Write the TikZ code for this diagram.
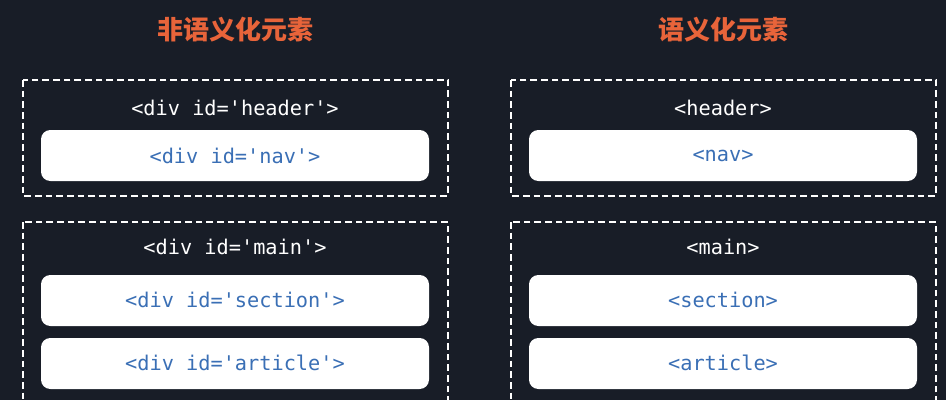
\documentclass[tikz,border=0pt]{standalone}
\usepackage{fontspec}
\setmonofont{DejaVu Sans Mono}
\newfontfamily\cjk{Noto Sans CJK SC}
\definecolor{bg}{HTML}{181D27}
\definecolor{ttl}{HTML}{E8643A}
\definecolor{blu}{HTML}{3A6FB5}
\begin{document}
\begin{tikzpicture}[x=0.75pt,y=-0.75pt,
 ttlstyle/.style={text=ttl,font=\cjk\bfseries\fontsize{19.5}{22}\selectfont},
 outer/.style={draw=white,dashed,line width=1.3pt,dash pattern=on 5pt off 3pt},
 inbox/.style={fill=white,rounded corners=7pt},
 lab/.style={text=white,font=\ttfamily\fontsize{15.2}{17}\selectfont},
 blab/.style={text=blu,font=\ttfamily\fontsize{15.2}{17}\selectfont}]
\fill[bg] (0,0) rectangle (946,400);
\useasboundingbox (0,0) rectangle (946,400);
\foreach \dx/\t/\h/\n/\m/\s/\a in {0/非语义化元素/<div id='header'>/<div id='nav'>/<div id='main'>/<div id='section'>/<div id='article'>,488/语义化元素/<header>/<nav>/<main>/<section>/<article>}{
 \begin{scope}[xshift=\dx*0.75pt]
 \node[ttlstyle] (t) at (235,30) {\t};
 \draw[outer] (23,80) rectangle (448,196);
 \draw[outer] (23,222) rectangle (448,404);
 \node[lab] (h) at (235,108) {\h};
 \node[lab] (m) at (235,247) {\m};
 \fill[inbox] (41,130) rectangle (429,181);
 \fill[inbox] (41,275) rectangle (429,326);
 \fill[inbox] (41,338) rectangle (429,389);
 \node[blab] (n) at (235,156) {\n};
 \node[blab] (s) at (235,300) {\s};
 \node[blab] (a) at (235,363) {\a};
 \end{scope}}
\end{tikzpicture}
\end{document}
